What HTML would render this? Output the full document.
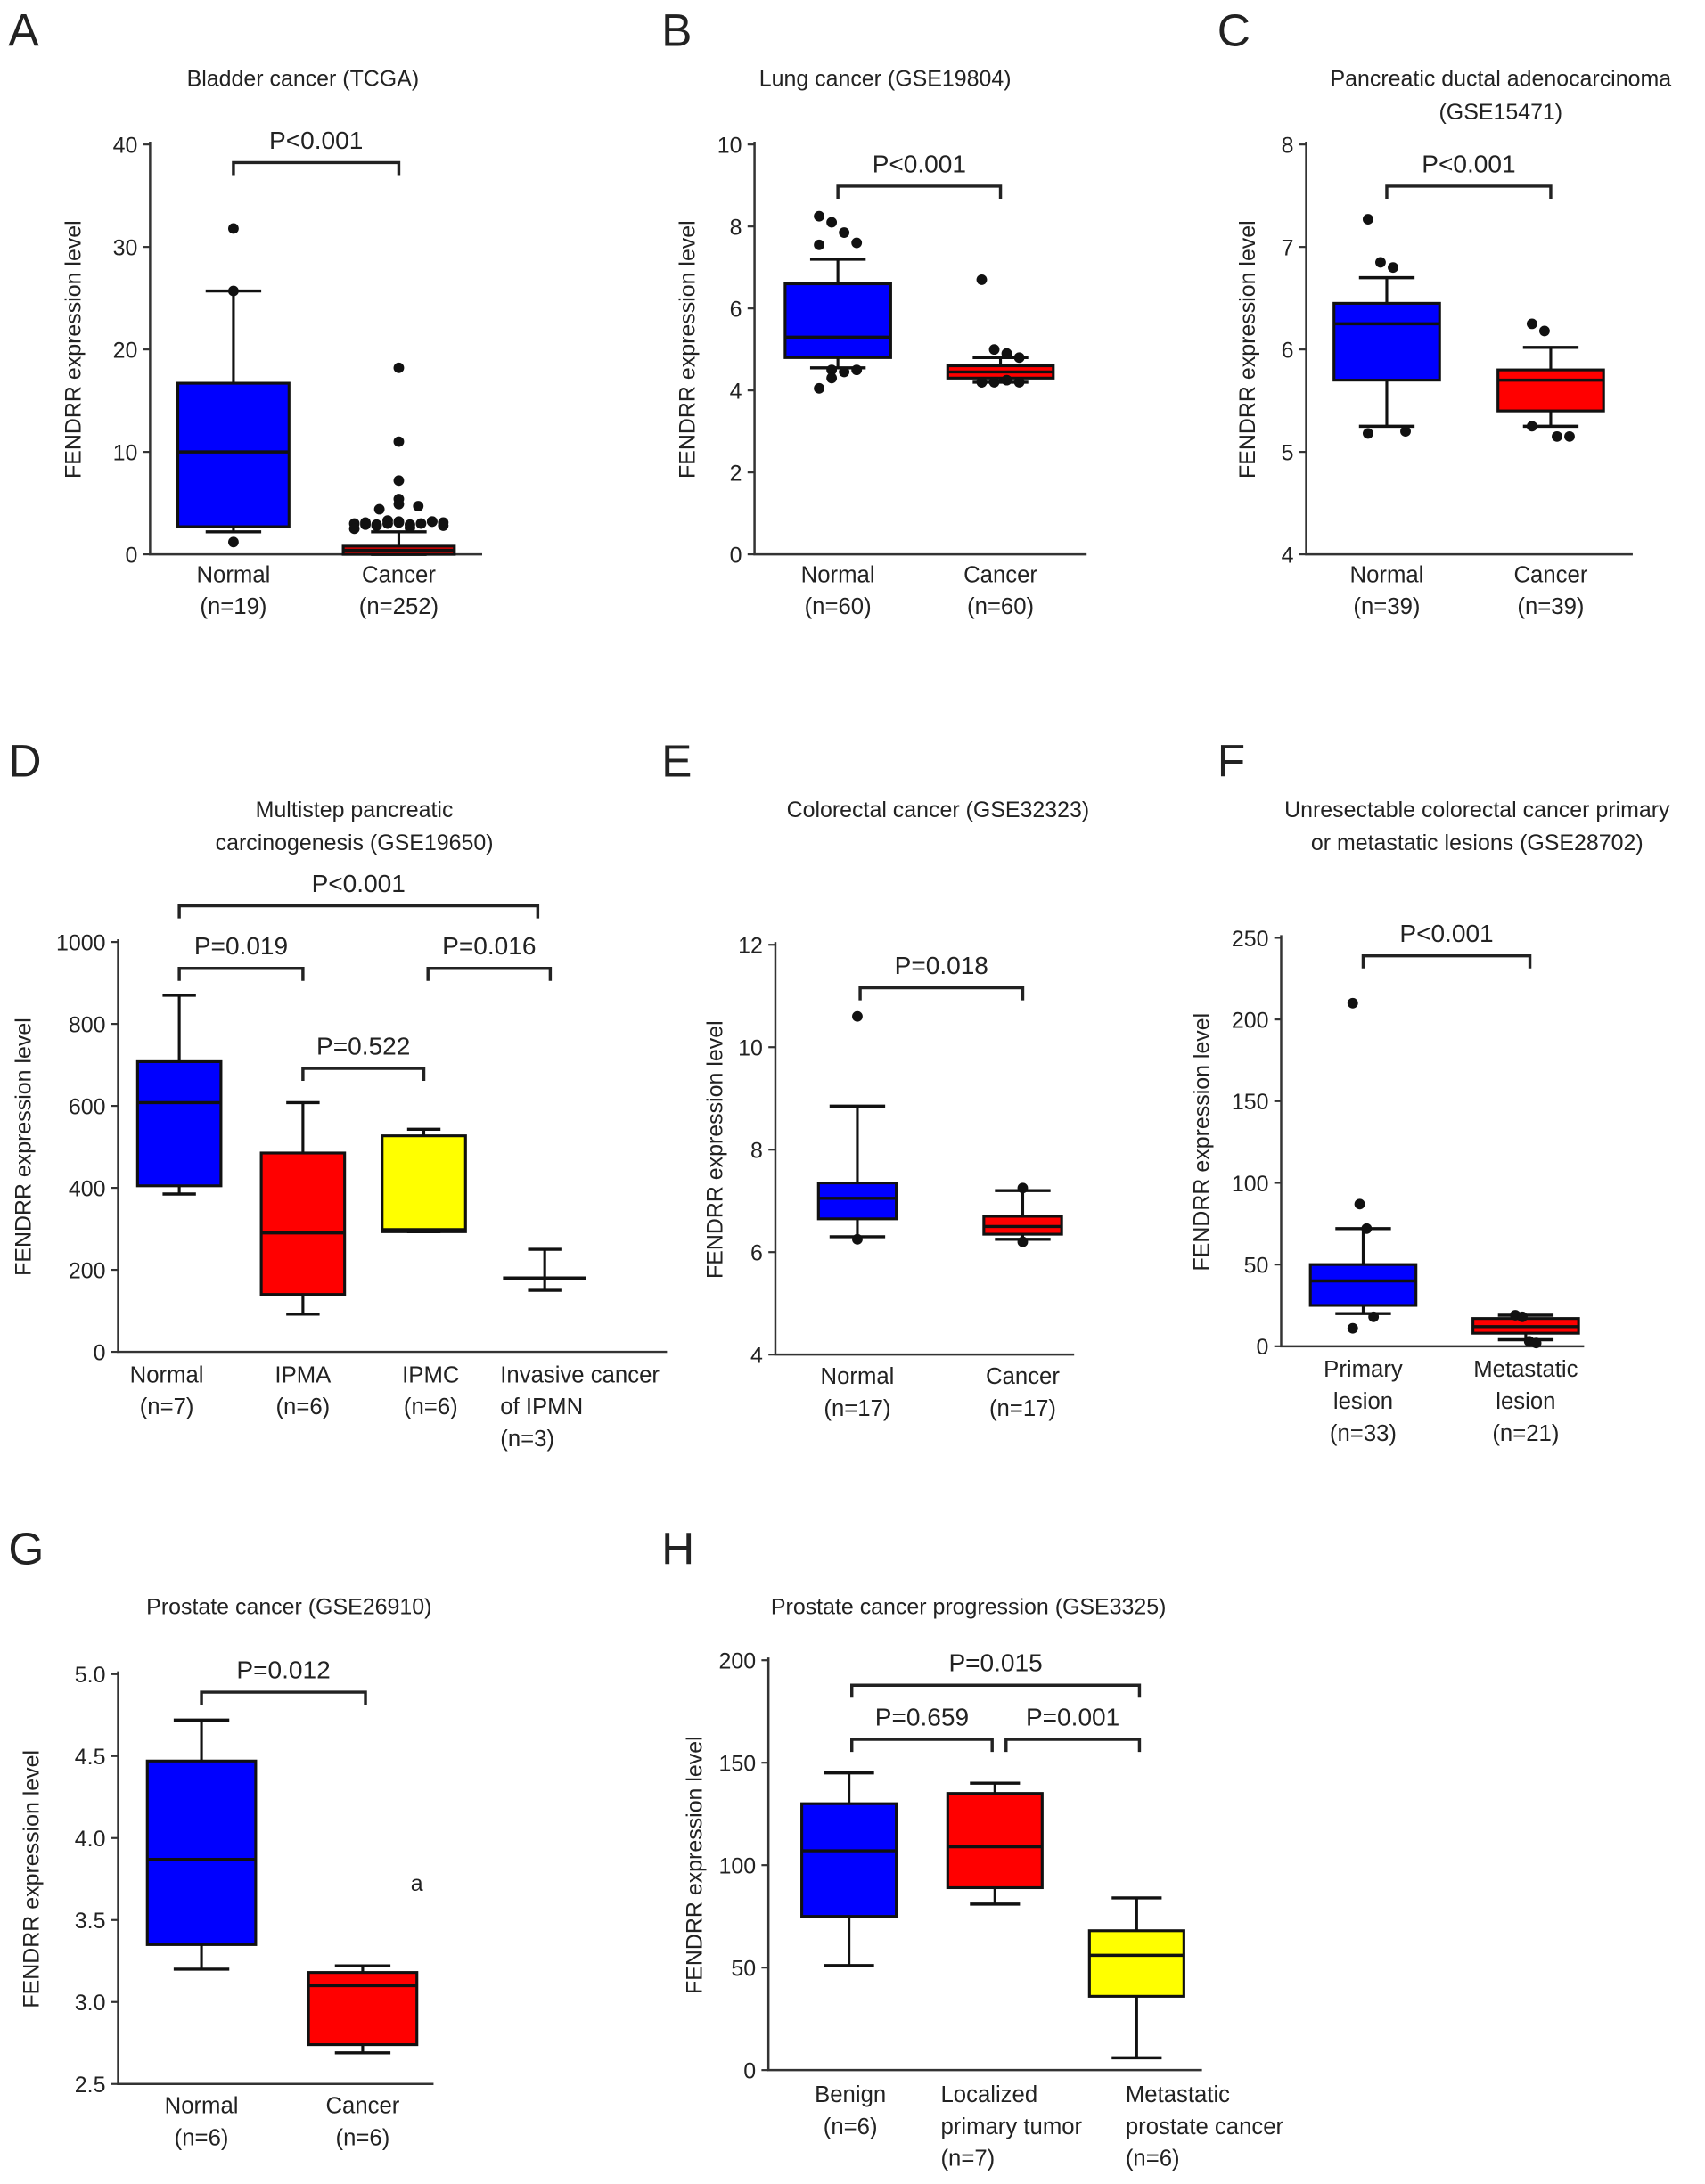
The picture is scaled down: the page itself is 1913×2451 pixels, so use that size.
<!DOCTYPE html>
<html><head><meta charset="utf-8"><style>
html,body{margin:0;padding:0;background:#fff}
svg{display:block}
text{font-family:"Liberation Sans",sans-serif;fill:#222}
</style></head><body>
<svg id="fig" width="1913" height="2451" viewBox="0 0 1227 1572" preserveAspectRatio="none" xmlns="http://www.w3.org/2000/svg"></svg>
<script>
// ---- data (values) ----
const aCats=["Normal","Cancer"], aN=["(n=19)","(n=252)"];
const aQ1=[2.7,0], aMed=[10,0.4], aQ3=[16.7,0.8], aLo=[2.2,0], aHi=[25.7,2.2];
const aOut=[[31.8,25.7,1.2],[18.2,11,7.2,5.4,4.9,4.7,4.4,3.2,3.1,3.0,2.9,2.8,3.3,3.1,2.9,3.0,3.2,2.8,2.5,3.1,2.9,3.0,3.2,2.6]];
const aTicks=[0,10,20,30,40];
const bCats=["Normal","Cancer"], bN=["(n=60)","(n=60)"];
const bQ1=[4.8,4.3], bMed=[5.3,4.45], bQ3=[6.6,4.6], bLo=[4.55,4.2], bHi=[7.2,4.8];
const bOut=[[8.25,8.1,7.85,7.6,7.55,4.5,4.45,4.5,4.05,4.3],[6.7,5.0,4.9,4.8,4.2,4.2,4.25,4.2,4.2]];
const bTicks=[0,2,4,6,8,10];
const cCats=["Normal","Cancer"], cN=["(n=39)","(n=39)"];
const cQ1=[5.7,5.4], cMed=[6.25,5.7], cQ3=[6.45,5.8], cLo=[5.25,5.25], cHi=[6.7,6.02];
const cOut=[[7.27,6.85,6.8,5.2,5.18],[6.25,6.18,5.15,5.15,5.25]];
const cTicks=[4,5,6,7,8];
const dCats=["Normal","IPMA","IPMC","Invasive cancer"], dN=["(n=7)","(n=6)","(n=6)","of IPMN"];
const dQ1=[405,140,293,180], dMed=[608,290,298,180], dQ3=[708,485,527,180], dLo=[385,92,293,150], dHi=[870,608,543,250];
const dTicks=[0,200,400,600,800,1000];
const eCats=["Normal","Cancer"], eN=["(n=17)","(n=17)"];
const eQ1=[6.65,6.35], eMed=[7.05,6.5], eQ3=[7.35,6.7], eLo=[6.3,6.25], eHi=[8.85,7.2];
const eOut=[[10.6,6.25],[7.25,6.2]];
const eTicks=[4,6,8,10,12];
const fCats=["Primary","Metastatic"], fN=["lesion","lesion"];
const fQ1=[25,8], fMed=[40,12], fQ3=[50,17], fLo=[20,4], fHi=[72,19];
const fOut=[[210,87,72,18,11],[19,18,3,2]];
const fTicks=[0,50,100,150,200,250];
const gCats=["Normal","Cancer"], gN=["(n=6)","(n=6)"];
const gQ1=[3.35,2.74], gMed=[3.87,3.1], gQ3=[4.47,3.18], gLo=[3.2,2.69], gHi=[4.72,3.22];
const gTicks=[2.5,3.0,3.5,4.0,4.5,5.0];
const hCats=["Benign","Localized","Metastatic"], hN=["(n=6)","primary tumor","prostate cancer"];
const hQ1=[75,89,36], hMed=[107,109,56], hQ3=[130,135,68], hLo=[51,81,6], hHi=[145,140,84];
const hTicks=[0,50,100,150,200];

const svg=document.getElementById('fig');
const NS="http://www.w3.org/2000/svg";
function mk(tag,attrs,parent){const e=document.createElementNS(NS,tag);for(const k in attrs)e.setAttribute(k,attrs[k]);(parent||svg).appendChild(e);return e;}
function txt(s,x,y,size,anchor,parent){const t=mk('text',{x:x,y:y,'font-size':size,'text-anchor':anchor||'middle'},parent);t.textContent=s;return t;}

function panel(cfg){
  const g=mk('g',{});
  
  
  const L=txt(cfg.letter,cfg.lx,cfg.ly,33,'start',g);
  
  
  cfg.title.forEach((s,i)=>{const t=txt(s,cfg.tx,cfg.ty+i*24,16,'middle',g);
    
    });
  const y=v=>cfg.y0+(v-cfg.ymin)/(cfg.ymax-cfg.ymin)*(cfg.y1-cfg.y0);
  const ax=mk('path',{d:`M${cfg.ax},${cfg.y1-2}L${cfg.ax},${cfg.y0}L${cfg.axEnd},${cfg.y0}`,stroke:'#333','stroke-width':1.6,fill:'none'},g);
  
  
  cfg.ticks.forEach(v=>{mk('line',{x1:cfg.ax-5,x2:cfg.ax,y1:y(v),y2:y(v),stroke:'#333','stroke-width':1.4},g);
    const t=txt(cfg.fmt?v.toFixed(1):String(v),cfg.ax-9,y(v)+6,16,'end',g);
    
    });
  const yl=txt('FENDRR expression level',0,0,16,'middle',g);
  yl.setAttribute('transform',`translate(${cfg.ylx},${(cfg.y0+cfg.y1)/2}) rotate(-90)`);
  
  
  cfg.cats.forEach((c,i)=>{
    const cx=cfg.cx[i], w=cfg.hw;
    const bg=mk('g',{},g);
    
    
    mk('line',{x1:cx,x2:cx,y1:y(cfg.lo[i]),y2:y(cfg.hi[i]),stroke:'#111','stroke-width':2},bg);
    mk('line',{x1:cx-cfg.cw,x2:cx+cfg.cw,y1:y(cfg.lo[i]),y2:y(cfg.lo[i]),stroke:'#111','stroke-width':2.2},bg);
    mk('line',{x1:cx-cfg.cw,x2:cx+cfg.cw,y1:y(cfg.hi[i]),y2:y(cfg.hi[i]),stroke:'#111','stroke-width':2.2},bg);
    if(cfg.colors[i]){
      mk('rect',{x:cx-w,y:y(cfg.q3[i]),width:2*w,height:Math.max(1,y(cfg.q1[i])-y(cfg.q3[i])),fill:cfg.colors[i],stroke:'#111','stroke-width':2},bg);
    }
    mk('line',{x1:cx-w,x2:cx+w,y1:y(cfg.med[i]),y2:y(cfg.med[i]),stroke:'#111','stroke-width':2.2},bg);
    if(cfg.out){
      const o=cfg.out[i];
      o.forEach((v,j)=>{
        let dx=0;
        if(cfg.spread&&v<3.6&&v>2.4){dx=((j%9)-4)*8;}
        else if(cfg.spread&&v<5.2&&v>4){dx=((j%3)-1)*14;}
        else if(cfg.jit){dx=((j%4)-1.5)*cfg.jit;}
        const d=mk('circle',{cx:cx+dx,cy:y(v),r:3.8,fill:'#111'},bg);
        
        
      });
    }
    cfg.xl[i].forEach((s,k)=>{const t=txt(s,cfg.xlx?cfg.xlx[i]:cx,cfg.xly+k*23,16.5,cfg.xla?cfg.xla[i]:'middle',g);
      
      });
  });
  cfg.brk.forEach(b=>{
    const bk=mk('path',{d:`M${b[0]},${b[2]+9}L${b[0]},${b[2]}L${b[1]},${b[2]}L${b[1]},${b[2]+9}`,stroke:'#222','stroke-width':2.2,fill:'none'},g);
    
    
    const t=txt(b[3],(b[0]+b[1])/2,b[2]-10,18,'middle',g);
    
    
  });
  return {g,y};
}
const B='#0000ff',R='#ff0000',Y='#ffff00';
panel({name:'panel-a',letter:'A',lx:6,ly:33,title:['Bladder cancer (TCGA)'],tx:218,ty:62,
  ax:108,axEnd:347,y0:399,y1:104,ymin:0,ymax:40,ticks:aTicks,ylx:58,
  cats:aCats,cx:[168,287],hw:40,cw:20,q1:aQ1,med:aMed,q3:aQ3,lo:aLo,hi:aHi,out:aOut,spread:true,colors:[B,R],
  xl:aCats.map((c,i)=>[c,aN[i]]),xly:419,brk:[[168,287,117,'P<0.001']]});
panel({name:'panel-b',letter:'B',lx:476,ly:33,title:['Lung cancer (GSE19804)'],tx:637,ty:62,
  ax:543,axEnd:782,y0:399,y1:104,ymin:0,ymax:10,ticks:bTicks,ylx:500,
  cats:bCats,cx:[603,720],hw:38,cw:20,q1:bQ1,med:bMed,q3:bQ3,lo:bLo,hi:bHi,out:bOut,jit:9,colors:[B,R],
  xl:bCats.map((c,i)=>[c,bN[i]]),xly:419,brk:[[603,720,134,'P<0.001']]});
panel({name:'panel-c',letter:'C',lx:876,ly:33,title:['Pancreatic ductal adenocarcinoma','(GSE15471)'],tx:1080,ty:62,
  ax:940,axEnd:1175,y0:399,y1:104,ymin:4,ymax:8,ticks:cTicks,ylx:903,
  cats:cCats,cx:[998,1116],hw:38,cw:20,q1:cQ1,med:cMed,q3:cQ3,lo:cLo,hi:cHi,out:cOut,jit:9,colors:[B,R],
  xl:cCats.map((c,i)=>[c,cN[i]]),xly:419,brk:[[998,1116,134,'P<0.001']]});
panel({name:'panel-d',letter:'D',lx:6,ly:559,title:['Multistep pancreatic','carcinogenesis (GSE19650)'],tx:255,ty:588,
  ax:85,axEnd:480,y0:973,y1:678,ymin:0,ymax:1000,ticks:dTicks,ylx:22,
  cats:dCats,cx:[129,218,305,392],hw:30,cw:12,q1:dQ1,med:dMed,q3:dQ3,lo:dLo,hi:dHi,colors:[B,R,Y,null],
  xl:[['Normal','(n=7)'],['IPMA','(n=6)'],['IPMC','(n=6)'],['Invasive cancer','of IPMN','(n=3)']],
  xlx:[120,218,310,360],xla:['middle','middle','middle','start'],xly:995,
  brk:[[129,387,652,'P<0.001'],[129,218,697,'P=0.019'],[308,396,697,'P=0.016'],[218,305,769,'P=0.522']]});
panel({name:'panel-e',letter:'E',lx:476,ly:559,title:['Colorectal cancer (GSE32323)'],tx:675,ty:588,
  ax:558,axEnd:773,y0:975,y1:680,ymin:4,ymax:12,ticks:eTicks,ylx:520,
  cats:eCats,cx:[617,736],hw:28,cw:20,q1:eQ1,med:eMed,q3:eQ3,lo:eLo,hi:eHi,out:eOut,colors:[B,R],
  xl:eCats.map((c,i)=>[c,eN[i]]),xly:996,brk:[[619,736,711,'P=0.018']]});
panel({name:'panel-f',letter:'F',lx:876,ly:559,title:['Unresectable colorectal cancer primary','or metastatic lesions (GSE28702)'],tx:1063,ty:588,
  ax:922,axEnd:1140,y0:969,y1:675,ymin:0,ymax:250,ticks:fTicks,ylx:870,
  cats:fCats,cx:[981,1098],hw:38,cw:20,q1:fQ1,med:fMed,q3:fQ3,lo:fLo,hi:fHi,out:fOut,jit:5,colors:[B,R],
  xl:[['Primary','lesion','(n=33)'],['Metastatic','lesion','(n=21)']],xly:991,brk:[[981,1101,688,'P<0.001']]});
panel({name:'panel-g',letter:'G',lx:6,ly:1126,title:['Prostate cancer (GSE26910)'],tx:208,ty:1162,
  ax:85,axEnd:312,y0:1500,y1:1205,ymin:2.5,ymax:5.0,ticks:gTicks,fmt:true,ylx:28,
  cats:gCats,cx:[145,261],hw:39,cw:20,q1:gQ1,med:gMed,q3:gQ3,lo:gLo,hi:gHi,colors:[B,R],
  xl:gCats.map((c,i)=>[c,gN[i]]),xly:1521,brk:[[145,263,1218,'P=0.012']]});
panel({name:'panel-h',letter:'H',lx:476,ly:1126,title:['Prostate cancer progression (GSE3325)'],tx:697,ty:1162,
  ax:553,axEnd:865,y0:1490,y1:1195,ymin:0,ymax:200,ticks:hTicks,ylx:505,
  cats:hCats,cx:[611,716,818],hw:34,cw:18,q1:hQ1,med:hMed,q3:hQ3,lo:hLo,hi:hHi,colors:[B,R,Y],
  xl:[['Benign','(n=6)'],['Localized','primary tumor','(n=7)'],['Metastatic','prostate cancer','(n=6)']],
  xlx:[612,677,810],xla:['middle','start','start'],xly:1513,
  brk:[[613,820,1213,'P=0.015'],[613,714,1252,'P=0.659'],[724,820,1252,'P=0.001']]});
const a=txt('a',300,1361,16,'middle');


</script>
</body></html>
